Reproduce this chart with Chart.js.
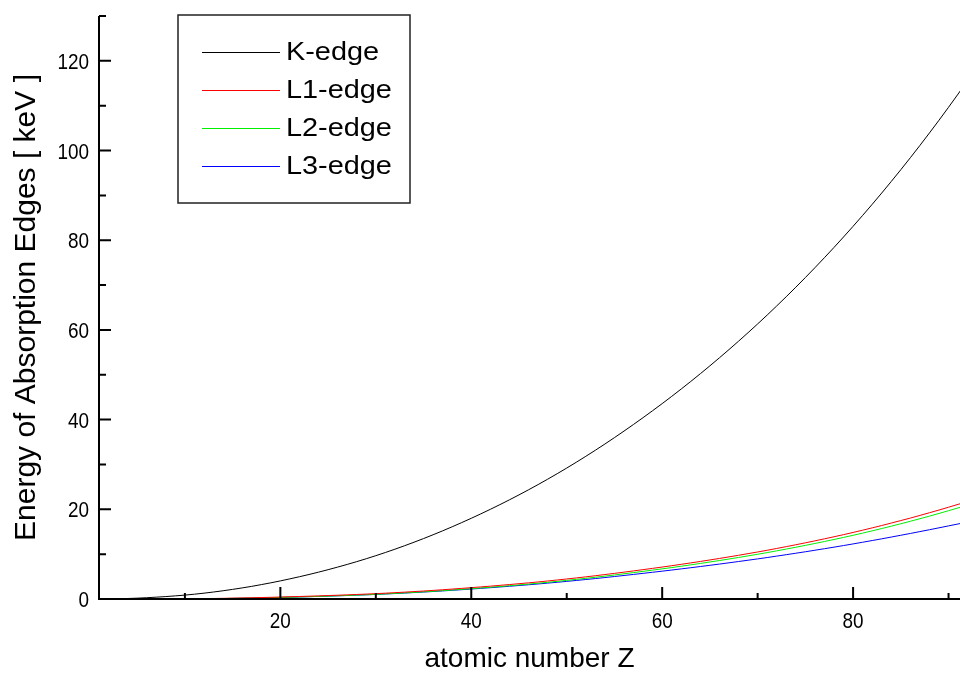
<!DOCTYPE html>
<html>
<head>
<meta charset="utf-8">
<script src="https://cdn.jsdelivr.net/npm/chart.js@4.4.1/dist/chart.umd.min.js"></script>
<style>
  body { margin: 0; background: #fff; }
  #wrap { width: 960px; height: 673px; }
</style>
</head>
<body>
<div id="wrap"><canvas id="edges" width="960" height="673"></canvas></div>
<script>
// atomic number Z for the K-edge curve (1..92) and the L-edge curves (10..92)
var zK = [1,2,3,4,5,6,7,8,9,10,11,12,13,14,15,16,17,18,19,20,21,22,23,24,25,26,27,28,29,30,
  31,32,33,34,35,36,37,38,39,40,41,42,43,44,45,46,47,48,49,50,51,52,53,54,55,56,57,58,59,60,
  61,62,63,64,65,66,67,68,69,70,71,72,73,74,75,76,77,78,79,80,81,82,83,84,85,86,87,88,89,90,91,92];
var zL = [10,11,12,13,14,15,16,17,18,19,20,21,22,23,24,25,26,27,28,29,30,
  31,32,33,34,35,36,37,38,39,40,41,42,43,44,45,46,47,48,49,50,51,52,53,54,55,56,57,58,59,60,
  61,62,63,64,65,66,67,68,69,70,71,72,73,74,75,76,77,78,79,80,81,82,83,84,85,86,87,88,89,90,91,92];

// edge energies in keV
var kEdge = [0.0136,0.0246,0.0548,0.111,0.188,0.284,0.410,0.543,0.697,0.870,
  1.071,1.303,1.560,1.839,2.146,2.472,2.822,3.206,3.608,4.038,
  4.492,4.966,5.465,5.989,6.539,7.112,7.709,8.333,8.979,9.659,
  10.367,11.103,11.867,12.658,13.474,14.326,15.200,16.105,17.038,17.998,
  18.986,20.000,21.044,22.117,23.220,24.350,25.514,26.711,27.940,29.200,
  30.491,31.814,33.169,34.561,35.985,37.441,38.925,40.443,41.991,43.569,
  45.184,46.834,48.519,50.239,51.996,53.789,55.618,57.486,59.390,61.332,
  63.314,65.351,67.416,69.525,71.676,73.871,76.111,78.395,80.725,83.102,
  85.530,88.005,90.526,93.105,95.730,98.404,101.137,103.922,106.755,109.651,
  112.601,115.606];
var l1Edge = [0.0485,0.0633,0.0894,0.1177,0.1497,0.1892,0.2307,0.2702,0.3263,0.3786,
  0.4384,0.4984,0.5605,0.6282,0.6961,0.7691,0.8461,0.9256,1.0081,1.0961,
  1.1936,1.2977,1.4143,1.5265,1.6539,1.782,1.921,2.0651,2.2163,2.3725,
  2.5316,2.6977,2.8655,3.0425,3.224,3.4119,3.6043,3.8058,4.018,4.2375,
  4.4647,4.6983,4.9392,5.1881,5.4528,5.7143,5.9888,6.2663,6.5488,6.8348,
  7.126,7.4279,7.7368,8.052,8.3756,8.708,9.0458,9.3942,9.7513,10.1157,
  10.4864,10.8704,11.2707,11.6815,12.0998,12.5267,12.968,13.4185,13.8799,14.3528,
  14.8393,15.3467,15.861,16.3875,16.9393,17.493,18.049,18.639,19.2367,19.84,
  20.4721,21.1046,21.7574];
var l2Edge = [0.0217,0.0306,0.0497,0.0728,0.0998,0.136,0.1635,0.2016,0.2506,0.2967,
  0.3503,0.4066,0.4618,0.5205,0.5837,0.6498,0.7199,0.7936,0.8719,0.951,
  1.0428,1.1423,1.2478,1.3586,1.4762,1.596,1.7272,1.8639,2.0068,2.1555,
  2.3067,2.4647,2.6251,2.7932,2.9669,3.1461,3.3303,3.5237,3.727,3.938,
  4.1561,4.3804,4.612,4.8521,5.1037,5.3594,5.6236,5.891,6.1642,6.4404,
  6.7215,7.0128,7.3118,7.6171,7.9303,8.2516,8.5806,8.9178,9.2643,9.6169,
  9.9782,10.3486,10.7394,11.1361,11.544,11.9587,12.385,12.8241,13.2726,13.7336,
  14.2087,14.6979,15.2,15.7111,16.2443,16.7847,17.3371,17.9065,18.4843,19.0832,
  19.6932,20.3137,20.9476];
var l3Edge = [0.0216,0.0306,0.0492,0.0727,0.0994,0.135,0.1622,0.2,0.2484,0.2939,
  0.3462,0.4015,0.4554,0.5125,0.5741,0.6387,0.7068,0.7786,0.8547,0.9311,
  1.0197,1.1154,1.2167,1.3231,1.4358,1.5499,1.6749,1.8044,1.9396,2.08,
  2.2223,2.3705,2.5202,2.6769,2.8379,3.0038,3.1733,3.3511,3.5375,3.7301,
  3.9288,4.1322,4.3414,4.5571,4.7822,5.0119,5.247,5.4827,5.7234,5.9643,
  6.2079,6.4593,6.7162,6.9769,7.2428,7.514,7.7901,8.0711,8.3579,8.648,
  8.9436,9.2441,9.5607,9.8811,10.2068,10.5353,10.8709,11.2152,11.5637,11.9187,
  12.2839,12.6575,13.0352,13.4186,13.8138,14.2135,14.6194,15.0312,15.4444,15.871,
  16.3003,16.7331,17.1663];

// tick labels
var xMajor = [20, 40, 60, 80];
var xMinor = [10, 30, 50, 70, 90];
var yMajor = [0, 20, 40, 60, 80, 100, 120];
var yMinor = [10, 30, 50, 70, 90, 110, 130];

function pts(zs, vals) {
  return zs.map(function (z, i) { return { x: z, y: vals[i] }; });
}

var FONT = "'Liberation Sans', Arial, sans-serif";

// text squeezed or stretched sideways (the original uses a narrow face for the ticks)
function stretchText(ctx, txt, x, y, sx) {
  ctx.save();
  ctx.translate(x, y);
  ctx.scale(sx, 1);
  ctx.fillText(txt, 0, 0);
  ctx.restore();
}

// axes drawn as in the original: thick lines, ticks pointing inwards
var axesPlugin = {
  id: 'axesPlugin',
  afterDatasetsDraw: function (chart) {
    var ctx = chart.ctx, a = chart.chartArea;
    var xs = chart.scales.x, ys = chart.scales.y;
    ctx.save();
    ctx.strokeStyle = '#000';
    ctx.lineWidth = 2;
    ctx.beginPath();
    ctx.moveTo(a.left, a.top);
    ctx.lineTo(a.left, a.bottom);
    ctx.lineTo(a.right, a.bottom);
    yMajor.forEach(function (v) {
      var py = ys.getPixelForValue(v);
      ctx.moveTo(a.left, py); ctx.lineTo(a.left + 12, py);
    });
    yMinor.forEach(function (v) {
      var py = ys.getPixelForValue(v);
      ctx.moveTo(a.left, py); ctx.lineTo(a.left + 7, py);
    });
    xMajor.forEach(function (v) {
      var px = xs.getPixelForValue(v);
      ctx.moveTo(px, a.bottom); ctx.lineTo(px, a.bottom - 12);
    });
    xMinor.forEach(function (v) {
      var px = xs.getPixelForValue(v);
      ctx.moveTo(px, a.bottom); ctx.lineTo(px, a.bottom - 6);
    });
    ctx.stroke();

    // tick labels
    ctx.fillStyle = '#000';
    ctx.font = '22px ' + FONT;
    ctx.textBaseline = 'alphabetic';
    ctx.textAlign = 'center';
    xMajor.forEach(function (v) {
      stretchText(ctx, String(v), xs.getPixelForValue(v), a.bottom + 29, 0.86);
    });
    ctx.textAlign = 'right';
    yMajor.forEach(function (v) {
      stretchText(ctx, String(v), a.left - 10, ys.getPixelForValue(v) + 8, 0.86);
    });
    ctx.restore();
  }
};

// boxed legend in the upper left corner
var legendBox = {
  id: 'legendBox',
  afterDraw: function (chart) {
    var ctx = chart.ctx;
    ctx.save();
    ctx.fillStyle = '#fff';
    ctx.fillRect(178, 15, 232, 188);
    ctx.strokeStyle = '#222';
    ctx.lineWidth = 1.5;
    ctx.strokeRect(178, 15, 232, 188);
    ctx.font = '26px ' + FONT;
    ctx.textBaseline = 'middle';
    chart.data.datasets.forEach(function (ds, i) {
      var y = 52 + i * 38;
      ctx.strokeStyle = ds.borderColor;
      ctx.lineWidth = 1;
      ctx.beginPath();
      ctx.moveTo(202, y + 0.5); ctx.lineTo(280, y + 0.5);
      ctx.stroke();
      ctx.fillStyle = '#000';
      stretchText(ctx, ds.label, 286, y + 1, 1.11);
    });
    ctx.restore();
  }
};

new Chart(document.getElementById('edges'), {
  type: 'line',
  data: {
    datasets: [
      { label: 'K-edge', data: pts(zK, kEdge), borderColor: '#000000' },
      { label: 'L1-edge', data: pts(zL, l1Edge), borderColor: '#ff0000' },
      { label: 'L2-edge', data: pts(zL, l2Edge), borderColor: '#00f000' },
      { label: 'L3-edge', data: pts(zL, l3Edge), borderColor: '#0000ff' }
    ]
  },
  options: {
    responsive: false,
    animation: false,
    layout: { padding: { top: 16, left: 0, right: 0, bottom: 0 } },
    elements: {
      point: { radius: 0 },
      line: { borderWidth: 1, tension: 0, fill: false }
    },
    plugins: {
      legend: { display: false },
      tooltip: { enabled: false }
    },
    scales: {
      x: {
        type: 'linear',
        min: 1,
        max: 91.2,
        grid: { display: false, drawTicks: false },
        border: { display: false },
        afterBuildTicks: function (s) { s.ticks = xMajor.map(function (v) { return { value: v }; }); },
        afterFit: function (s) { s.height = 74; s.paddingLeft = 0; s.paddingRight = 0; },
        ticks: { display: false },
        title: { display: true, text: 'atomic number Z', color: '#000',
                 font: { family: FONT, size: 28, lineHeight: 1 }, padding: 0 }
      },
      y: {
        min: 0,
        max: 130,
        grid: { display: false, drawTicks: false },
        border: { display: false },
        afterBuildTicks: function (s) { s.ticks = yMajor.map(function (v) { return { value: v }; }); },
        afterFit: function (s) { s.width = 99; s.paddingTop = 0; s.paddingBottom = 0; },
        ticks: { display: false },
        title: { display: true, text: 'Energy of Absorption Edges [ keV ]', color: '#000',
                 font: { family: FONT, size: 30, lineHeight: 1 }, padding: { top: 12, bottom: 0 } }
      }
    }
  },
  plugins: [axesPlugin, legendBox]
});
</script>
</body>
</html>
